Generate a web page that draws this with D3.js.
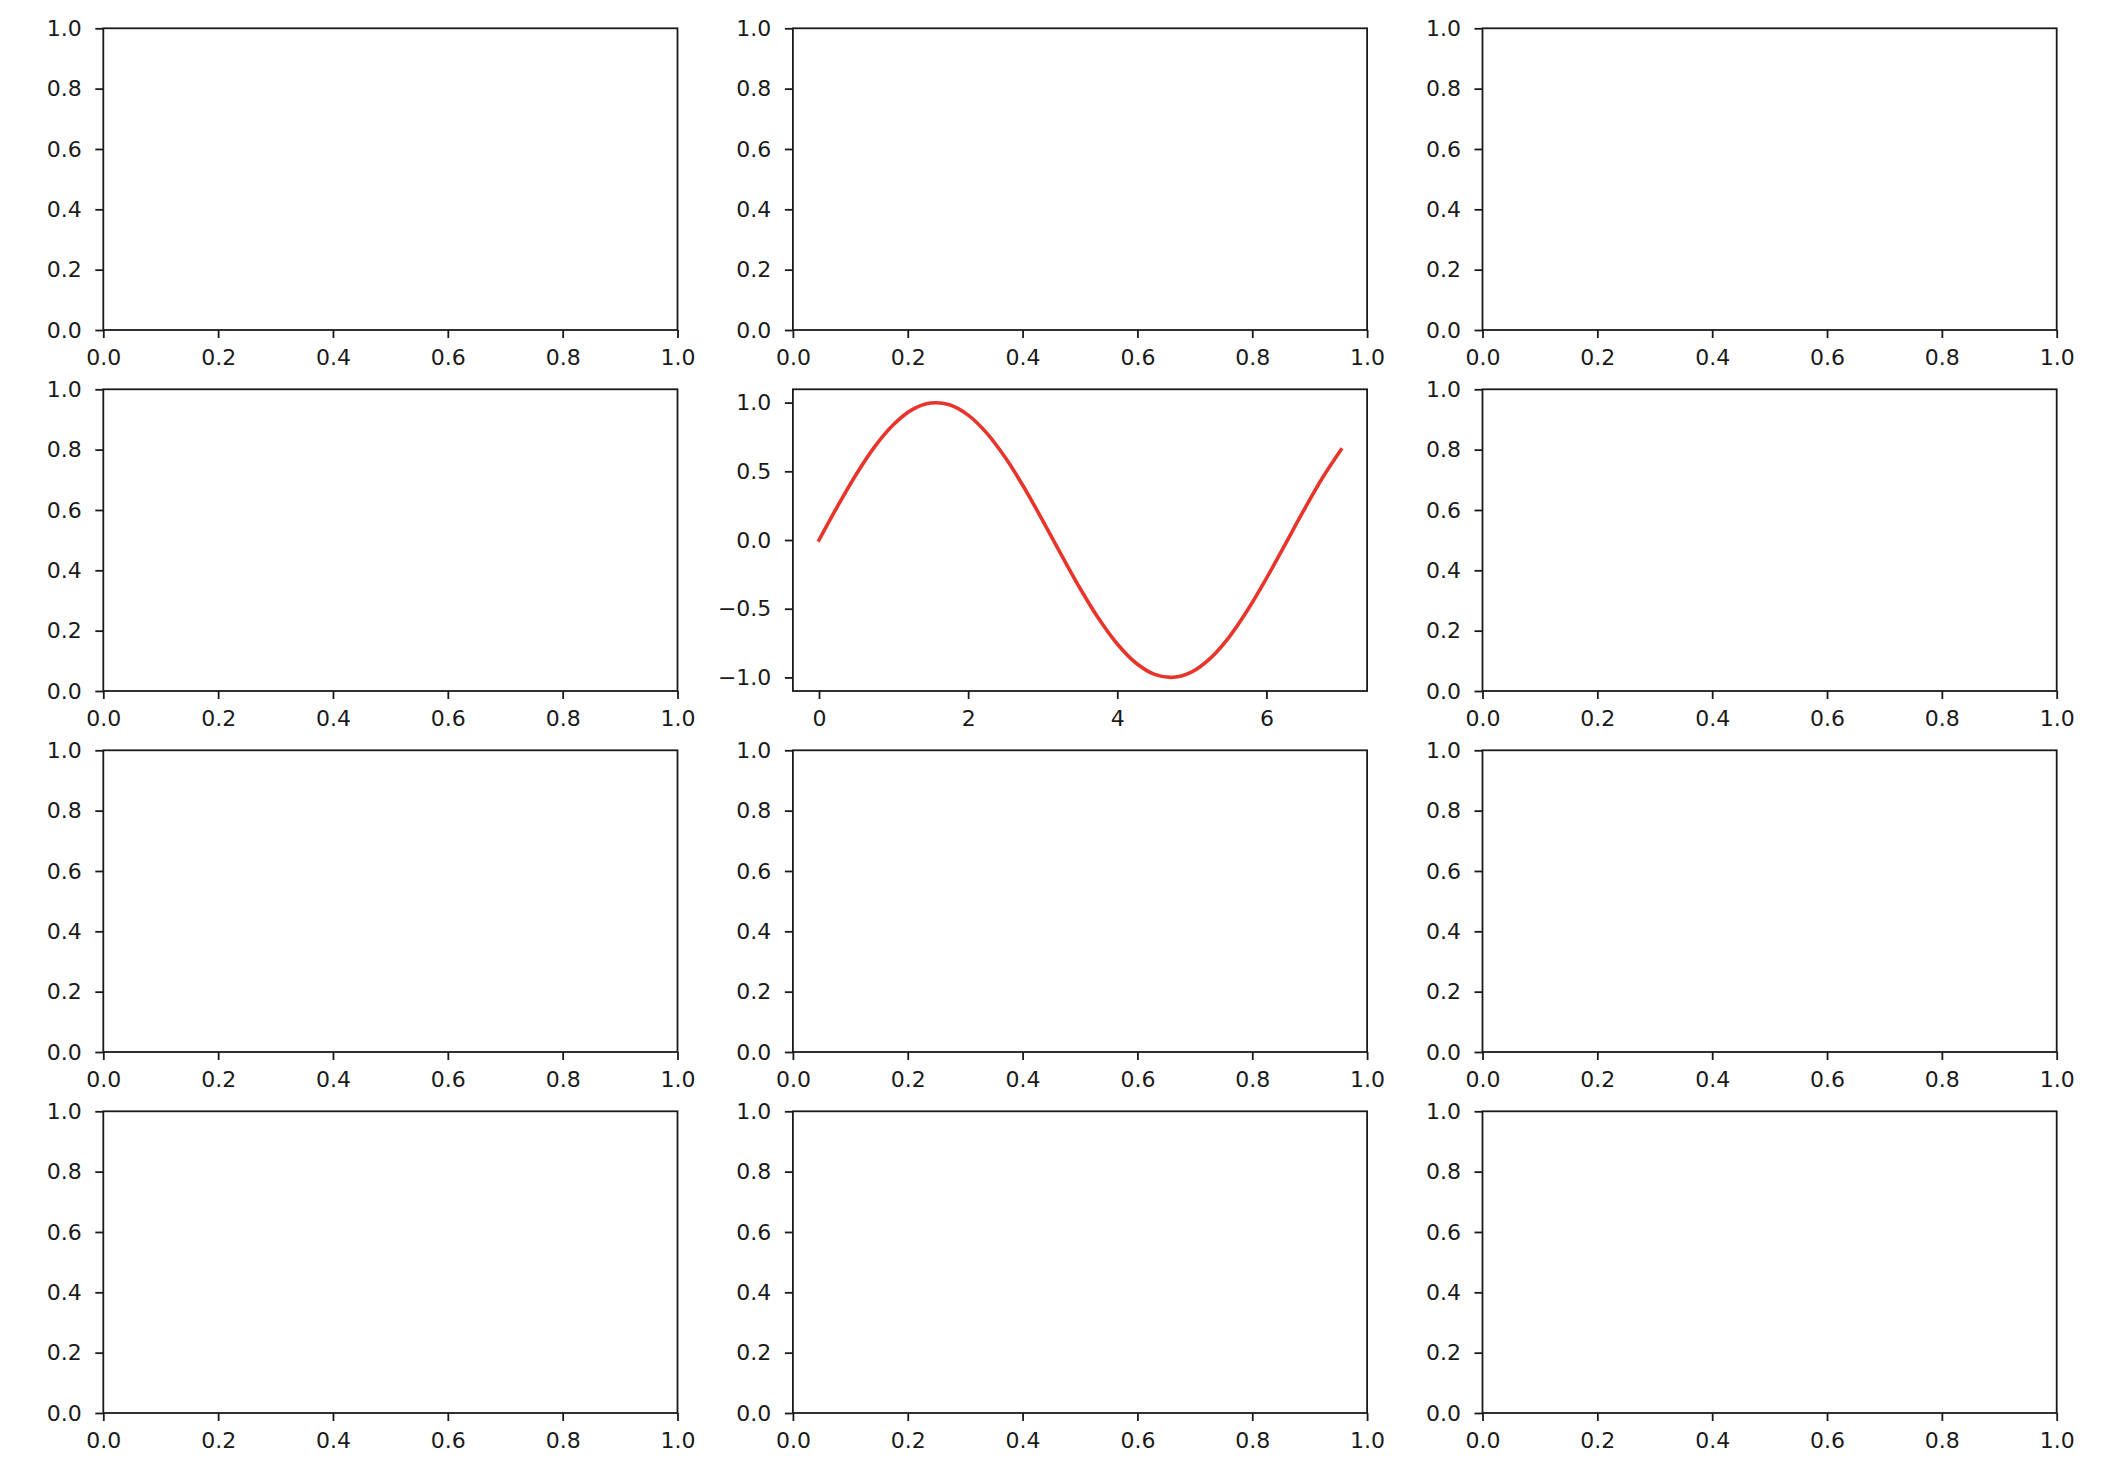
<!DOCTYPE html>
<html>
<head>
<meta charset="utf-8">
<script src="https://cdn.jsdelivr.net/npm/d3@7"></script>
<style>
  html, body { margin: 0; padding: 0; background: #ffffff; }
  svg { display: block; }
  text { font-family: "DejaVu Sans", sans-serif; }
</style>
</head>
<body>
<div id="chart"></div>
<script>
// ---- data ----
const gridRows = 4;
const gridCols = 3;
const activeCell = { row: 1, col: 1 };          // the panel that holds the curve

const emptyDomain = [0, 1];
const emptyTicks = [0.0, 0.2, 0.4, 0.6, 0.8, 1.0];

const sineX = [0, 0.25, 0.5, 0.75, 1.0, 1.25, 1.5, 1.75, 2.0, 2.25, 2.5, 2.75, 3.0, 3.25, 3.5,
               3.75, 4.0, 4.25, 4.5, 4.75, 5.0, 5.25, 5.5, 5.75, 6.0, 6.25, 6.5, 6.75, 7.0];
const sineY = [0.000, 0.247, 0.479, 0.682, 0.841, 0.949, 0.997, 0.984, 0.909, 0.778, 0.598, 0.382,
               0.141, -0.108, -0.351, -0.572, -0.757, -0.895, -0.978, -0.999, -0.959, -0.859,
               -0.706, -0.508, -0.279, -0.033, 0.215, 0.451, 0.657];
const sineXTicks = [0, 2, 4, 6];
const sineYTicks = [-1.0, -0.5, 0.0, 0.5, 1.0];

// ---- layout ----
const W = 2108, H = 1470;
const left0 = 103.3, top0 = 28.3;
const panelW = 574.2, panelH = 301.7;
const colPitch = 689.6, rowPitch = 361.0;
const fontPx = 22;
const tickLen = 8;
const lineColor = "#e8352b";
const inkColor = "#1a1a1a";

const svg = d3.select("#chart").append("svg")
  .attr("width", W).attr("height", H)
  .style("background", "#ffffff");

function styleAxis(g) {
  g.select(".domain").remove();
  g.selectAll(".tick line").attr("stroke", inkColor).attr("stroke-width", 1.8);
  g.selectAll(".tick text")
    .attr("fill", inkColor)
    .style("font-family", "'DejaVu Sans', sans-serif")
    .style("font-size", fontPx + "px");
}

for (let r = 0; r < gridRows; r++) {
  for (let c = 0; c < gridCols; c++) {
    const x0 = left0 + c * colPitch;
    const y0 = top0 + r * rowPitch;
    const g = svg.append("g").attr("transform", `translate(${x0},${y0})`);
    const isActive = (r === activeCell.row && c === activeCell.col);

    let xs, ys, xt, yt, xf, yf;
    if (isActive) {
      const xe = d3.extent(sineX), ye = d3.extent(sineY);
      const xm = (xe[1] - xe[0]) * 0.05, ym = (ye[1] - ye[0]) * 0.05;
      xs = d3.scaleLinear().domain([xe[0] - xm, xe[1] + xm]).range([0, panelW]);
      ys = d3.scaleLinear().domain([ye[0] - ym, ye[1] + ym]).range([panelH, 0]);
      xt = sineXTicks; yt = sineYTicks;
      xf = d3.format("d"); yf = d3.format(".1f");
    } else {
      xs = d3.scaleLinear().domain(emptyDomain).range([0, panelW]);
      ys = d3.scaleLinear().domain(emptyDomain).range([panelH, 0]);
      xt = emptyTicks; yt = emptyTicks;
      xf = d3.format(".1f"); yf = d3.format(".1f");
    }

    if (isActive) {
      const line = d3.line()
        .x((d, i) => xs(sineX[i]))
        .y((d, i) => ys(sineY[i]))
        .curve(d3.curveCatmullRom.alpha(0.5));
      g.append("path")
        .datum(sineY)
        .attr("d", line)
        .attr("fill", "none")
        .attr("stroke", lineColor)
        .attr("stroke-width", 3.6)
        .attr("stroke-linecap", "square");
    }

    g.append("g")
      .attr("transform", `translate(0,${panelH})`)
      .call(d3.axisBottom(xs).tickValues(xt).tickFormat(xf)
        .tickSize(tickLen).tickSizeOuter(0).tickPadding(11.5))
      .call(styleAxis);

    g.append("g")
      .call(d3.axisLeft(ys).tickValues(yt).tickFormat(yf)
        .tickSize(tickLen).tickSizeOuter(0).tickPadding(13.6))
      .call(styleAxis);

    g.append("rect")
      .attr("x", 0).attr("y", 0)
      .attr("width", panelW).attr("height", panelH)
      .attr("fill", "none")
      .attr("stroke", inkColor)
      .attr("stroke-width", 1.8);
  }
}
</script>
</body>
</html>
